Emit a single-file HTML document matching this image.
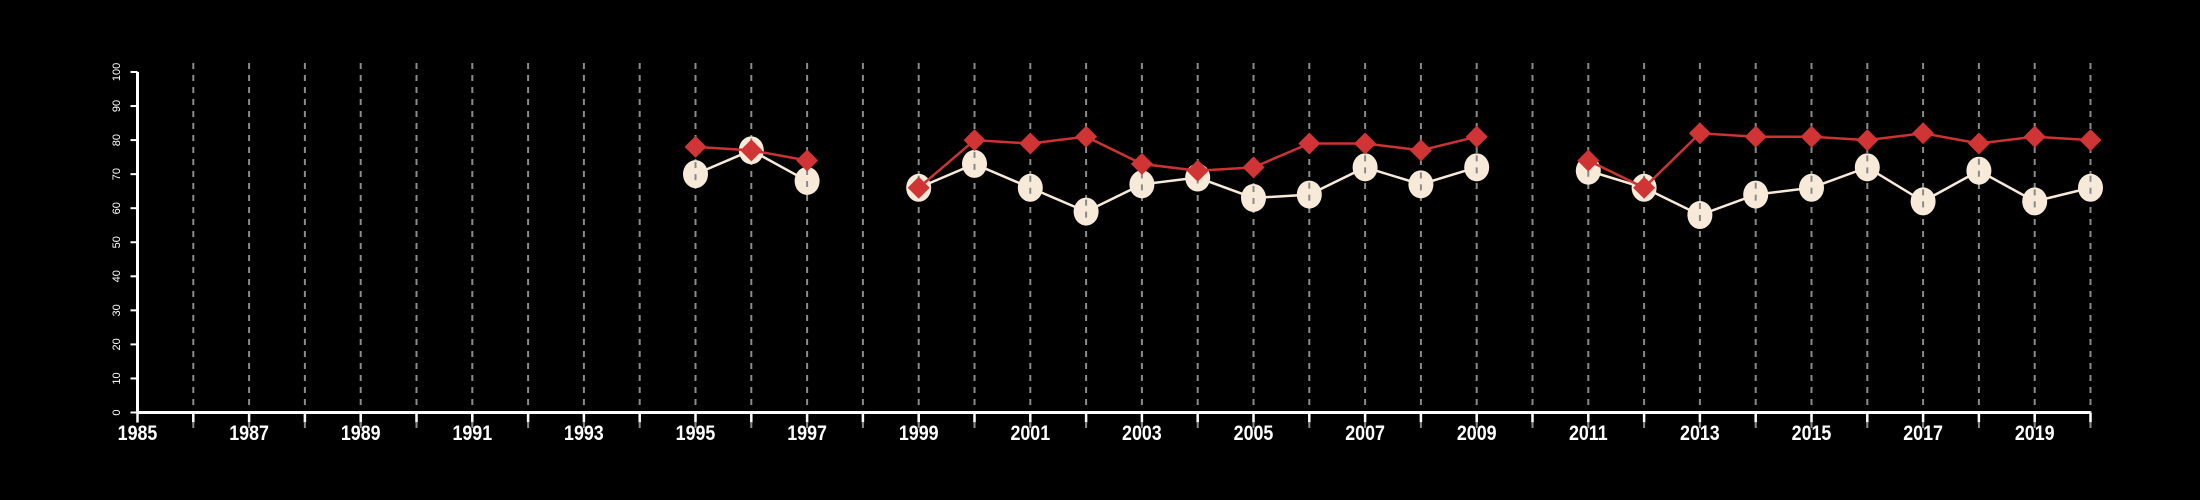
<!DOCTYPE html>
<html><head><meta charset="utf-8"><style>
html,body{margin:0;padding:0;background:#000;}
svg{display:block;font-family:"Liberation Sans",sans-serif;}
</style></head><body>
<svg id="chart" width="2200" height="500" viewBox="0 0 2200 500">
<rect width="2200" height="500" fill="#000"/>
<g id="grid"></g><g id="axes"></g><g id="series"></g>
</svg>
<script>
const years = [1995,1996,1997,1998,1999,2000,2001,2002,2003,2004,2005,2006,2007,2008,2009,2010,2011,2012,2013,2014,2015,2016,2017,2018,2019,2020];
const seriesWhite = [70,77,68,null,66,73,66,59,67,69,63,64,72,67,72,null,71,66,58,64,66,72,62,71,62,66];
const seriesRed = [78,77,74,null,66,80,79,81,73,71,72,79,79,77,81,null,74,66,82,81,81,80,82,79,81,80];
const yTicks = [0,10,20,30,40,50,60,70,80,90,100];
const xLabels = [1985,1987,1989,1991,1993,1995,1997,1999,2001,2003,2005,2007,2009,2011,2013,2015,2017,2019];

const NS="http://www.w3.org/2000/svg";
const x = y => 137.5 + (y-1985)*(2090.5-137.5)/35;
const yv = v => 412.5 - v*(412.5-72)/100;
function mk(tag, attrs, parent){const e=document.createElementNS(NS,tag);for(const k in attrs)e.setAttribute(k,attrs[k]);parent.appendChild(e);return e;}
const grid=document.getElementById('grid'), axes=document.getElementById('axes'), ser=document.getElementById('series');

for(let yr=1986; yr<=2020; yr++){
  const l=mk('line',{x1:x(yr),x2:x(yr),y1:63,y2:428,stroke:'#8a8a8a','stroke-width':2,'stroke-dasharray':'6 6'},grid);
  
  
}
const ax=mk('line',{x1:x(1985),x2:x(2020),y1:yv(0),y2:yv(0),stroke:'#fff','stroke-width':3},axes);


const ay=mk('line',{x1:x(1985),x2:x(1985),y1:yv(0),y2:yv(100),stroke:'#fff','stroke-width':3},axes);


for(let yr=1985; yr<=2020; yr++){
  const t=mk('line',{x1:x(yr),x2:x(yr),y1:yv(0),y2:yv(0)+10,stroke:'#fff','stroke-width':2.5},axes);
  
  
}
xLabels.forEach(yr=>{
  const t=mk('text',{x:x(yr),y:440,fill:'#fff','font-size':21,'font-weight':'bold','text-anchor':'middle',transform:`translate(${x(yr)},0) scale(0.85,1) translate(${-x(yr)},0)`},axes);
  t.textContent=yr;
  
  
});
yTicks.forEach(v=>{
  const t=mk('line',{x1:x(1985)-7,x2:x(1985),y1:yv(v),y2:yv(v),stroke:'#fff','stroke-width':2},axes);
  
  
  const lb=mk('text',{x:0,y:0,fill:'#fff','font-size':11,'text-anchor':'middle',transform:`translate(120,${yv(v)}) rotate(-90)`},axes);
  lb.textContent=v;
  
  
});
function drawLine(vals,color,name){
  let d='';let pen=false;
  vals.forEach((v,i)=>{ if(v===null){pen=false;return;} d+=(pen?'L':'M')+x(years[i])+' '+yv(v)+' '; pen=true;});
  const p=mk('path',{d:d,fill:'none',stroke:color,'stroke-width':2.5},ser);
  
  
}
drawLine(seriesWhite,'#f7ead8','line-white');
seriesWhite.forEach((v,i)=>{ if(v===null)return;
  const c=mk('ellipse',{cx:x(years[i]),cy:yv(v),rx:12.5,ry:14,fill:'#f7ead8'},ser);
  
  
  const g=mk('line',{x1:x(years[i]),x2:x(years[i]),y1:yv(v)-12,y2:yv(v)+12,stroke:'#8a8a8a','stroke-width':2,'stroke-dasharray':'6 6'},ser);
  
  
});
drawLine(seriesRed,'#cc3333','line-red');
seriesRed.forEach((v,i)=>{ if(v===null)return;
  const cx=x(years[i]), cy=yv(v), r=11;
  const p=mk('polygon',{points:`${cx},${cy-r} ${cx+r},${cy} ${cx},${cy+r} ${cx-r},${cy}`,fill:'#d03434'},ser);
  
  
});
</script>
</body></html>
